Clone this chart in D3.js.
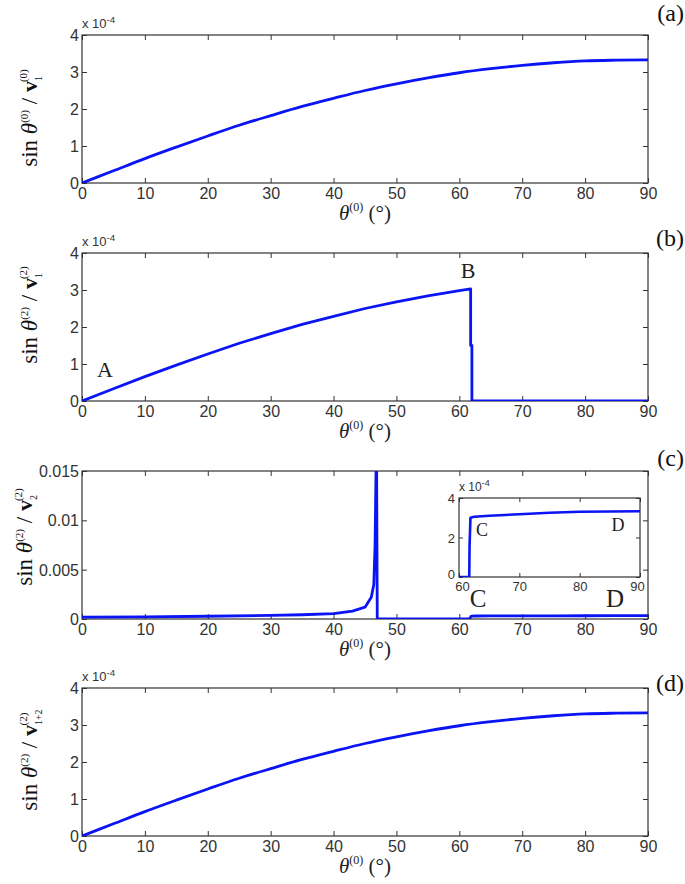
<!DOCTYPE html>
<html><head><meta charset="utf-8">
<script src="https://cdn.jsdelivr.net/npm/d3@7"></script>
<style>
body{margin:0;background:#fff;}
</style></head>
<body>
<svg id="c" width="685" height="884"></svg>
<script>
// ---------- data ----------
const xTicks = [0,10,20,30,40,50,60,70,80,90];
const yTicks4 = [0,1,2,3,4];
const yTicksC = [0,0.005,0.01,0.015];
const yTicksCLabels = ["0","0.005","0.01","0.015"];

// (a) sin θ(0)/v1(0) (×1e-4)
const thetaA = [0,5,10,15,20,25,30,35,40,45,50,55,60,65,70,75,80,85,90];
const valA   = [0,0.33,0.66,0.97,1.27,1.56,1.82,2.07,2.29,2.50,2.68,2.84,2.98,3.09,3.18,3.25,3.30,3.32,3.33];

// (b) sin θ(2)/v1(2) (×1e-4)
const thetaB = [0,5,10,15,20,25,30,35,40,45,50,55,60,61.8,61.8,62.0,62.0,90];
const valB   = [0,0.33,0.66,0.97,1.27,1.56,1.82,2.07,2.29,2.50,2.68,2.84,2.98,3.03,1.5,1.5,0,0];

// (c) sin θ(2)/v2(2)
const thetaC = [0,10,20,30,35,40,43,45,46,46.4,46.6,46.75,46.85,46.95,61.7,61.75,61.9,62.5,65,70,75,80,85,90];
const valC   = [0.0002,0.00022,0.00028,0.00036,0.00043,0.00055,0.0008,0.0012,0.0022,0.0035,0.0075,0.0149,0.0149,0,0,0.00016,0.0003,0.000305,0.00031,0.000318,0.000325,0.00033,0.000332,0.000333];

// (c) inset (×1e-4)
const insetX = [60,61.7,61.75,61.9,62.5,65,70,75,80,85,90];
const insetY = [0,0,1.6,3.0,3.05,3.1,3.18,3.25,3.3,3.32,3.33];
const insetXTicks = [60,70,80,90];
const insetYTicks = [0,2,4];

// (d) sin θ(2)/v1+2(2) (×1e-4)
const thetaD = [0,5,10,15,20,25,30,35,40,45,50,55,60,65,70,75,80,85,90];
const valD   = [0,0.33,0.66,0.97,1.27,1.56,1.82,2.07,2.29,2.50,2.68,2.84,2.98,3.09,3.18,3.25,3.30,3.32,3.33];

const panelLabels = ["(a)","(b)","(c)","(d)"];

// ---------- layout ----------
const svg = d3.select("#c");
const L = 82, R = 648, H = 148;
const tops = [35, 253, 471, 688];
const BLUE = "#0a14f5";
const serif = "'Liberation Serif','Times New Roman',serif";
const sans = "'Liberation Sans Narrow','Arial Narrow','Liberation Sans',Arial,sans-serif";

const x = d3.scaleLinear().domain([0,90]).range([L,R]);

function drawAxes(g, xs, ys, xt, yt, yfmt, tickLen, fs, ypad) {
  const x0 = xs.range()[0], x1 = xs.range()[1];
  const y0 = ys.range()[0], y1 = ys.range()[1];
  g.append("rect").attr("x",x0).attr("y",y1).attr("width",x1-x0).attr("height",y0-y1)
    .attr("fill","#fff").attr("stroke","none");
  const bx = g.append("g").attr("transform",`translate(0,${y0})`)
    .call(d3.axisBottom(xs).tickValues(xt).tickSize(-tickLen).tickPadding(5).tickFormat(d3.format("d")));
  const tx = g.append("g").attr("transform",`translate(0,${y1})`)
    .call(d3.axisTop(xs).tickValues(xt).tickSize(-tickLen).tickFormat(""));
  const ly = g.append("g").attr("transform",`translate(${x0},0)`)
    .call(d3.axisLeft(ys).tickValues(yt).tickSize(-tickLen).tickPadding(ypad||3).tickFormat(yfmt));
  const ry = g.append("g").attr("transform",`translate(${x1},0)`)
    .call(d3.axisRight(ys).tickValues(yt).tickSize(-tickLen).tickFormat(""));
  [bx,tx,ly,ry].forEach(a=>{
    a.select(".domain").remove();
    a.selectAll("line").attr("stroke","#333");
    a.selectAll("text").attr("font-size",fs).attr("font-family",sans).attr("fill","#333");
  });
  ly.selectAll("text").attr("dy","0.35em");
  g.append("rect").attr("x",x0).attr("y",y1).attr("width",x1-x0).attr("height",y0-y1)
    .attr("fill","none").attr("stroke","#333").attr("stroke-width",1.2);
  return {bx, ly};
}

function drawLine(g, xs, ys, xv, yv, id, smooth, sw) {
  const x0 = xs.range()[0], x1 = xs.range()[1];
  const y0 = ys.range()[0], y1 = ys.range()[1];
  g.append("clipPath").attr("id",id).append("rect")
    .attr("x",x0).attr("y",y1).attr("width",x1-x0).attr("height",y0-y1);
  const pts = xv.map((d,i)=>[d,yv[i]]);
  const gen = d3.line().x(d=>xs(d[0])).y(d=>ys(d[1]));
  if (smooth) gen.curve(d3.curveMonotoneX);
  g.append("path").attr("clip-path",`url(#${id})`)
    .attr("d", gen(pts))
    .attr("fill","none").attr("stroke",BLUE).attr("stroke-width",sw||2.8).attr("stroke-linejoin","round");
}

function exponent(g, xpos, ypos, fs) {
  const t = g.append("text").attr("x",xpos).attr("y",ypos)
    .attr("font-family",sans).attr("font-size",fs).attr("fill","#333");
  t.append("tspan").text("x 10");
  t.append("tspan").attr("dy",-5).attr("font-size",fs*0.75).text("-4");
}

function yLabel(g, cx, cy, sup, sub, supV) {
  const t = g.append("text").attr("transform",`translate(${cx},${cy}) rotate(-90)`)
    .attr("text-anchor","middle").attr("font-family",serif).attr("font-size",23).attr("fill","#111");
  t.append("tspan").text("sin ");
  t.append("tspan").attr("font-style","italic").text("θ");
  t.append("tspan").attr("font-size",11).attr("dy",-9).text(sup);
  t.append("tspan").attr("dy",9).text(" / ");
  t.append("tspan").attr("font-weight","bold").attr("font-size",22).text("v");
  t.append("tspan").attr("font-size",10).attr("dy",5).text(sub);
  const subW = sub.length*5 + 1;
  t.append("tspan").attr("font-size",11).attr("dx",-subW).attr("dy",-15).text(supV);
}

function xLabel(g, ybase) {
  const t = g.append("text").attr("x",(L+R)/2).attr("y",ybase).attr("text-anchor","middle")
    .attr("font-family",serif).attr("font-size",21).attr("fill","#222");
  t.append("tspan").attr("font-style","italic").text("θ");
  t.append("tspan").attr("font-size",12).attr("dy",-9).text("(0)");
  t.append("tspan").attr("dy",9).text(" (°)");
}

function letter(g, txt, xp, yp, fs) {
  g.append("text").attr("x",xp).attr("y",yp).attr("text-anchor","middle")
    .attr("font-family",serif).attr("font-size",fs).attr("fill","#222").text(txt);
}

const fmt4 = d3.format("d");
const labelBase = [21, 246, 466, 691];
const ylabCenter = [118, 315, 537, 760];
const ylabX = [37, 37, 32, 37];
const ySup = ["(0)","(2)","(2)","(2)"];
const ySub = ["1","1","2","1+2"];
const ySupV = ["(0)","(2)","(2)","(2)"];

tops.forEach((top,i)=>{
  const g = svg.append("g");
  const bottom = top + H;
  const y = i===2 ? d3.scaleLinear().domain([0,0.015]).range([bottom,top])
                  : d3.scaleLinear().domain([0,4]).range([bottom,top]);
  if (i===2) drawAxes(g, x, y, xTicks, yTicksC, (d,j)=>yTicksCLabels[j], 5, 16);
  else drawAxes(g, x, y, xTicks, yTicks4, fmt4, 5, 16);
  if (i!==2) exponent(g, L, top-7, 13);
  g.append("text").attr("x",684).attr("y",labelBase[i]).attr("text-anchor","end")
    .attr("font-family",serif).attr("font-size",24).attr("fill","#111").text(panelLabels[i]);
  yLabel(g, ylabX[i], ylabCenter[i], ySup[i], ySub[i], ySupV[i]);
  xLabel(g, bottom + 37);

  if (i===0) drawLine(g, x, y, thetaA, valA, "cpA", true);
  if (i===1) {
    drawLine(g, x, y, thetaB, valB, "cpB", false);
    letter(g, "A", 105, 377, 22);
    letter(g, "B", 468, 278, 22);
  }
  if (i===2) {
    drawLine(g, x, y, thetaC, valC, "cpC", false);
    letter(g, "C", 478, 607, 25);
    letter(g, "D", 615, 607, 25);
    // inset
    const gi = svg.append("g");
    const xi = d3.scaleLinear().domain([60,90]).range([459,640]);
    const yi = d3.scaleLinear().domain([0,4]).range([577,498]);
    const ax = drawAxes(gi, xi, yi, insetXTicks, insetYTicks, d3.format("d"), 4, 13, 4);
    ax.bx.selectAll("text").filter(function(){return this.textContent==="90";}).attr("dx",-3);
    ax.bx.selectAll("text").filter(function(){return this.textContent==="60";}).attr("dx",3);
    ax.ly.selectAll("text").filter(function(){return this.textContent==="0";}).attr("dy","0.1em");
    exponent(gi, 459, 491, 12);
    drawLine(gi, xi, yi, insetX, insetY, "cpI", false, 2.6);
    letter(gi, "C", 482, 536, 18);
    letter(gi, "D", 618, 531, 18);
  }
  if (i===3) drawLine(g, x, y, thetaD, valD, "cpD", true);
});
</script>
</body></html>
